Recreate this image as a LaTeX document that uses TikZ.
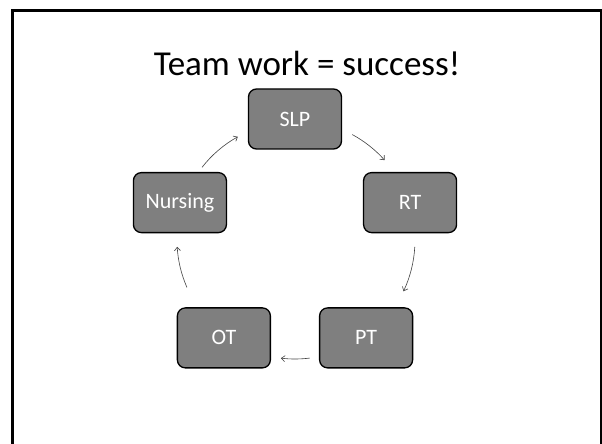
\documentclass[tikz,border=0pt]{standalone}
\usepackage{fontspec}
\setmainfont{Carlito}
\usepackage{tikz}
\usetikzlibrary{arrows.meta}

\definecolor{boxgray}{HTML}{7F7F7F}
\definecolor{arcgray}{HTML}{404040}

\begin{document}
\begin{tikzpicture}[x=1pt,y=1pt,
  stage/.style={rectangle, rounded corners=8pt, draw=black, line width=1.3pt,
    fill=boxgray, text=white, minimum width=93pt, minimum height=60pt,
    inner sep=0pt, font=\fontsize{22}{26}\selectfont},
  flow/.style={draw=arcgray, line width=0.6pt, -{Straight Barb[length=3.5pt,width=6pt]}}]

 \useasboundingbox (0,0) rectangle (602,444);

 % slide frame
 \draw[line width=3pt] (12.5,-5) -- (12.5,433.5) -- (601,433.5) -- (601,-5);

 % title
 \node[anchor=base, font=\fontsize{35}{42}\selectfont] (title) at (307,368) {Team work = success!};

 % cycle centre
 \coordinate (ctr) at (295,204);

 % stages
 \node[stage] (slp)     at ([shift={(90:121)}]ctr)  {SLP};
 \node[stage] (rt)      at ([shift={(18:121)}]ctr)  {RT};
 \node[stage] (pt)      at ([shift={(-54:121)}]ctr) {PT};
 \node[stage] (ot)      at ([shift={(-126:121)}]ctr) {OT};
 \node[stage] (nursing) at ([shift={(162:121)}]ctr) {Nursing};

 % arrows
 \draw[flow] ([shift={(61.5:120)}]ctr) arc[start angle=61.5, end angle=41.7, radius=120];
 \draw[flow] ([shift={(-3.3:120)}]ctr) arc[start angle=-3.3, end angle=-25.3, radius=120];
 \draw[flow] ([shift={(-82.8:119)}]ctr) arc[start angle=-82.8, end angle=-96.8, radius=119];
 \draw[flow] ([shift={(203.7:118)}]ctr) arc[start angle=203.7, end angle=183.3, radius=118];
 \draw[flow] ([shift={(142:118)}]ctr) arc[start angle=142, end angle=119, radius=118];

\end{tikzpicture}
\end{document}
